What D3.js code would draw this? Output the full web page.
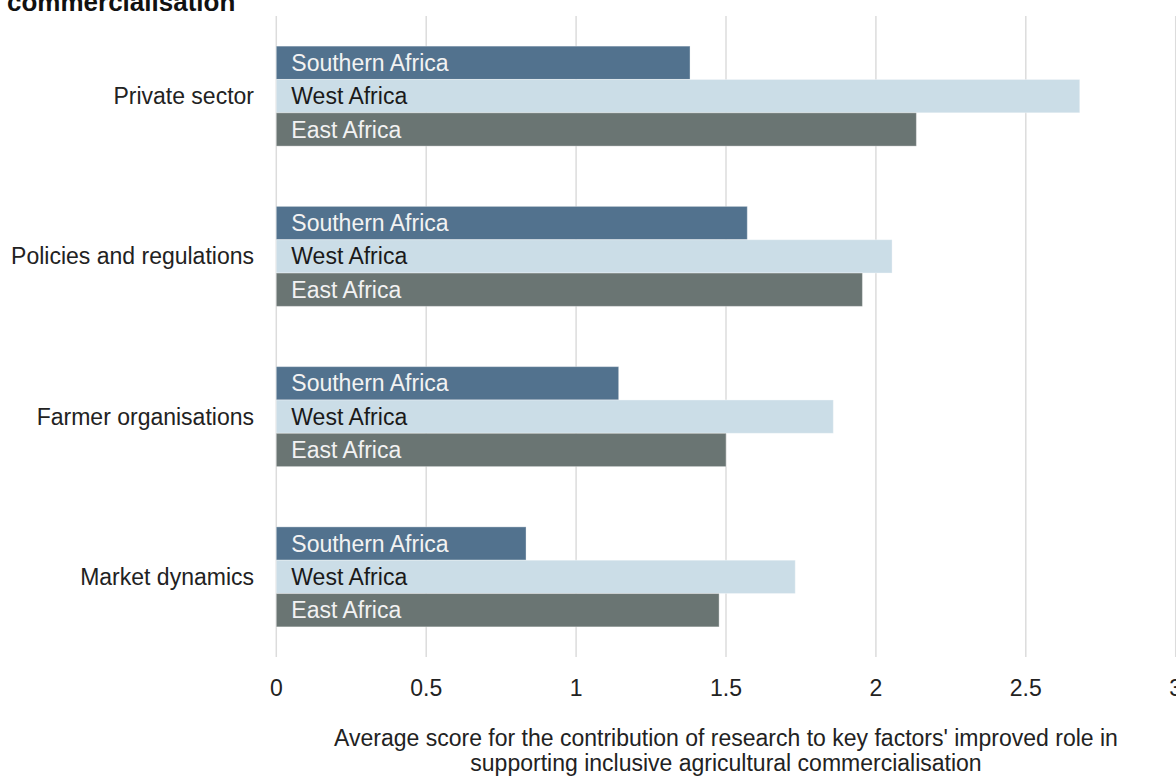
<!DOCTYPE html>
<html>
<head>
<meta charset="utf-8">
<script src="https://cdn.jsdelivr.net/npm/d3@7"></script>
<style>
  body { margin: 0; background: #fff; }
  svg { display: block; font-family: "Liberation Sans", Arial, sans-serif; }
</style>
</head>
<body>
<div id="chart"></div>
<script>
const categories = ["Private sector", "Policies and regulations", "Farmer organisations", "Market dynamics"];
const regions = ["Southern Africa", "West Africa", "East Africa"];
const southern = [1.38, 1.571, 1.142, 0.833];
const west = [2.68, 2.054, 1.858, 1.731];
const east = [2.135, 1.955, 1.5, 1.477];
const ticks = [0, 0.5, 1, 1.5, 2, 2.5, 3];

const colors = { "Southern Africa": "#52728e", "West Africa": "#cbdde7", "East Africa": "#6a7573" };
const textColors = { "Southern Africa": "#f2f2f2", "West Africa": "#1a1a1a", "East Africa": "#f2f2f2" };

const width = 1176, height = 776;
const fs = 23;
const svg = d3.select("#chart").append("svg")
    .attr("width", width)
    .attr("height", height);

const x = d3.scaleLinear().domain([0, 3]).range([276.3, 1175.7]);
const y = d3.scaleBand().domain(categories).range([16, 657])
    .paddingInner(0.376).paddingOuter(0.188);
const ySub = d3.scaleBand().domain(regions).range([0, y.bandwidth()]);

// gridlines
svg.append("g").selectAll("line")
    .data(ticks)
    .enter().append("line")
    .attr("x1", d => x(d)).attr("x2", d => x(d))
    .attr("y1", 16).attr("y2", 657)
    .attr("stroke", "#dcdcdc")
    .attr("stroke-width", 1.5);

// tick labels
svg.append("g").selectAll("text")
    .data(ticks)
    .enter().append("text")
    .attr("x", d => x(d))
    .attr("y", 696)
    .attr("text-anchor", "middle")
    .attr("font-size", fs)
    .attr("fill", "#222")
    .text(d => d);

const rows = categories.map((c, i) => ({
    cat: c,
    values: [southern[i], west[i], east[i]]
}));

const group = svg.append("g").selectAll("g")
    .data(rows)
    .enter().append("g")
    .attr("transform", d => `translate(0,${y(d.cat)})`);

const bar = group.selectAll("g")
    .data(d => d.values.map((v, j) => ({ region: regions[j], value: v })))
    .enter().append("g");

bar.append("rect")
    .attr("x", x(0))
    .attr("y", d => ySub(d.region))
    .attr("width", d => x(d.value) - x(0))
    .attr("height", ySub.bandwidth())
    .attr("fill", d => colors[d.region])
    .attr("stroke", "rgba(255,255,255,0.35)")
    .attr("stroke-width", 1);

bar.append("text")
    .attr("x", x(0) + 15)
    .attr("y", d => ySub(d.region) + ySub.bandwidth() / 2)
    .attr("dy", "0.35em")
    .attr("font-size", fs)
    .attr("fill", d => textColors[d.region])
    .text(d => d.region);

// category labels
svg.append("g").selectAll("text")
    .data(categories)
    .enter().append("text")
    .attr("x", 254)
    .attr("y", d => y(d) + y.bandwidth() / 2)
    .attr("dy", "0.35em")
    .attr("text-anchor", "end")
    .attr("font-size", fs)
    .attr("fill", "#222")
    .text(d => d);

// axis title
const cx = (x(0) + x(3)) / 2;
const title = svg.append("text")
    .attr("text-anchor", "middle")
    .attr("font-size", fs)
    .attr("fill", "#222");
title.append("tspan").attr("x", cx).attr("y", 746)
    .text("Average score for the contribution of research to key factors' improved role in");
title.append("tspan").attr("x", cx).attr("y", 771)
    .text("supporting inclusive agricultural commercialisation");

// chart title (first line sits above the visible area)
svg.append("text")
    .attr("x", 7)
    .attr("y", 11)
    .attr("font-size", 26)
    .attr("font-weight", "bold")
    .attr("fill", "#111")
    .text("commercialisation");
</script>
</body>
</html>
